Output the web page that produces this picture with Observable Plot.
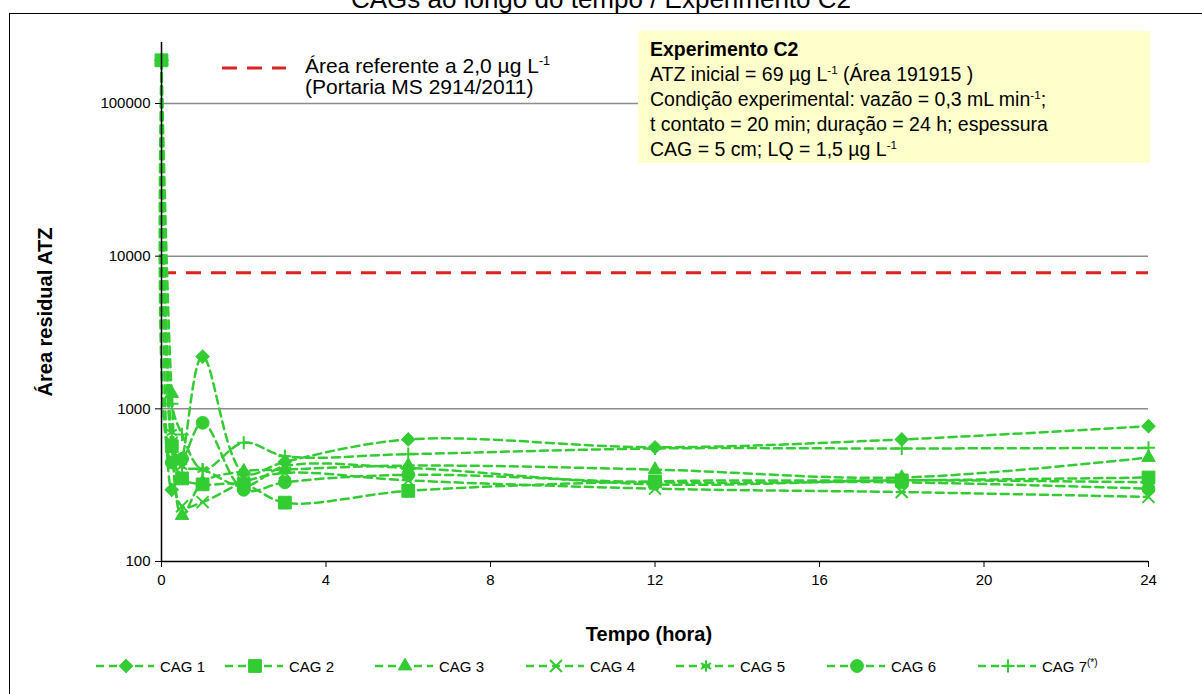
<!DOCTYPE html>
<html><head><meta charset="utf-8">
<script src="https://cdn.jsdelivr.net/npm/d3@7"></script>
<script src="https://cdn.jsdelivr.net/npm/@observablehq/plot@0.6"></script>
<style>
body{margin:0;background:#fff;font-family:"Liberation Sans",Arial,sans-serif;color:#000;}
#wrap{position:relative;width:1202px;height:694px;overflow:hidden;background:#fff;}
#frame{position:absolute;left:9px;top:13px;width:1200px;height:700px;border:1.5px solid #000;box-sizing:border-box;}
#title{position:absolute;left:0;width:1202px;text-align:center;top:-14px;font-size:26px;line-height:26px;white-space:nowrap;}
#chart{position:absolute;left:0;top:0;}
#overlay{position:absolute;left:0;top:0;pointer-events:none;}
.txt{position:absolute;white-space:nowrap;font-size:21px;line-height:21px;}
sup{font-size:0.6em;vertical-align:0.6em;line-height:0;}
#box{position:absolute;left:638px;top:31px;width:512px;height:132px;background:#FFFFCC;box-sizing:border-box;padding:6px 0 0 12px;font-size:19.5px;line-height:25px;white-space:nowrap;}
#ylab{position:absolute;left:45px;top:312px;transform:translate(-50%,-50%) rotate(-90deg);font-weight:bold;font-size:20px;white-space:nowrap;}
#xlab{position:absolute;left:649px;top:634px;transform:translate(-50%,-50%);font-weight:bold;font-size:20px;white-space:nowrap;}
</style></head>
<body>
<div id="wrap">
  <div id="title">CAGs ao longo do tempo / Experimento C2</div>
  <div id="frame"></div>
  <div id="chart"></div>
  <svg id="overlay" width="1202" height="694"></svg>
  <div class="txt" style="left:305px;top:55px;">Área referente a 2,0 µg L<sup>-1</sup></div>
  <div class="txt" style="left:305px;top:76px;">(Portaria MS 2914/2011)</div>
  <div id="box"><div><b>Experimento C2</b></div><div>ATZ inicial = 69 µg L<sup>-1</sup> (Área 191915 )</div><div>Condição experimental: vazão = 0,3 mL min<sup>-1</sup>;</div><div>t contato = 20 min; duração = 24 h; espessura</div><div>CAG = 5 cm; LQ = 1,5 µg L<sup>-1</sup></div></div>
  <div id="ylab">Área residual ATZ</div>
  <div id="xlab">Tempo (hora)</div>
</div>
<script>
// ---- data ----
const times = [0, 0.25, 0.5, 1, 2, 3, 6, 12, 18, 24];
const cag1 = [191915, 295, 470, 2200, 380, 450, 630, 560, 630, 770];
const cag2 = [191915, 570, 350, 320, 320, 243, 290, 335, 340, 355];
const cag3 = [191915, 1260, 200, 330, 390, 400, 425, 400, 355, 480];
const cag4 = [191915, 600, 230, 245, 330, 380, 340, 300, 285, 265];
const cag5 = [191915, 700, 420, 400, 310, 420, 410, 320, 340, 330];
const cag6 = [191915, 445, 470, 810, 295, 330, 370, 330, 330, 300];
const cag7 = [191915, 1080, 680, 400, 600, 490, 505, 550, 550, 555];
const seriesNames = ["CAG 1", "CAG 2", "CAG 3", "CAG 4", "CAG 5", "CAG 6", "CAG 7"];
const seriesValues = [cag1, cag2, cag3, cag4, cag5, cag6, cag7];
const limitArea = [7800];
const gridLevels = [1000, 10000, 100000];
const yTicks = [100, 1000, 10000, 100000];
const xTicks = [0, 4, 8, 12, 16, 20, 24];

// marker styles (Excel-like: all fit the same box)
const markerStyle = [
  {symbol: "square", rotate: 45, r: 5.3, sw: 1},   // diamond
  {symbol: "square", rotate: 0, r: 7.2, sw: 1},
  {symbol: "triangle", rotate: 0, r: 5.0, sw: 1},
  {symbol: "times", rotate: 0, r: 5.5, sw: 2},
  {symbol: "asterisk", rotate: 0, r: 5.5, sw: 2},
  {symbol: "circle", rotate: 0, r: 6.4, sw: 1},
  {symbol: "plus", rotate: 0, r: 4.3, sw: 2}
];

const green = "#33CC33";
const red = "#DD2222";
const data = [];
seriesNames.forEach((s, i) => times.forEach((t, j) => data.push({s, t, v: seriesValues[i][j]})));

const dotMarks = seriesNames.map((s, i) => Plot.dot(data.filter(d => d.s === s), {
  x: "t", y: "v", symbol: markerStyle[i].symbol, rotate: markerStyle[i].rotate, r: markerStyle[i].r,
  fill: green, stroke: green, strokeWidth: markerStyle[i].sw
}));

const chart = Plot.plot({
  width: 1202, height: 610,
  marginLeft: 161, marginRight: 54, marginTop: 42, marginBottom: 49,
  style: {fontFamily: "Liberation Sans, Arial, sans-serif", fontSize: "15px", color: "#000", background: "transparent", overflow: "visible"},
  x: {domain: [0, 24]},
  y: {type: "log", domain: [100, 251000]},
  marks: [
    Plot.ruleY(gridLevels, {x1: 0, x2: 24, stroke: "#8c8c8c", strokeWidth: 1.5}),
    Plot.ruleY(limitArea, {x1: 0, x2: 24, stroke: red, strokeWidth: 3, strokeDasharray: "15,10"}),
    Plot.line(data, {x: "t", y: "v", z: "s", stroke: green, strokeWidth: 2.5, strokeDasharray: "8,5", curve: "catmull-rom"}),
    ...dotMarks,
    Plot.ruleX([0], {stroke: "#000", strokeWidth: 1.5}),
    Plot.ruleY([100], {x1: 0, x2: 24, stroke: "#000", strokeWidth: 1.5}),
    Plot.axisX({ticks: xTicks, tickSize: 6, tickPadding: 7, label: null, fontSize: 15, tickFormat: d => String(d)}),
    Plot.axisY({ticks: yTicks, tickSize: 6, tickPadding: 5, label: null, fontSize: 15, tickFormat: d => String(d)})
  ]
});
document.getElementById("chart").appendChild(chart);

// ---- overlay: threshold legend sample and series legend ----
const ov = d3.select("#overlay");
ov.append("line").attr("x1", 222).attr("x2", 286).attr("y1", 68).attr("y2", 68)
  .attr("stroke", red).attr("stroke-width", 3).attr("stroke-dasharray", "15,10");

const symMap = {square: d3.symbolSquare, triangle: d3.symbolTriangle,
  times: d3.symbolTimes, asterisk: d3.symbolAsterisk, circle: d3.symbolCircle, plus: d3.symbolPlus};
const legendX = [126, 255, 405, 556, 706, 857, 1008];
const ly = 666;
seriesNames.forEach((s, i) => {
  const x = legendX[i], m = markerStyle[i];
  ov.append("line").attr("x1", x - 30).attr("x2", x + 28).attr("y1", ly).attr("y2", ly)
    .attr("stroke", green).attr("stroke-width", 2.5).attr("stroke-dasharray", "8,5");
  ov.append("path").attr("transform", `translate(${x},${ly}) rotate(${m.rotate})`)
    .attr("d", d3.symbol(symMap[m.symbol], Math.PI * m.r * m.r)())
    .attr("fill", green).attr("stroke", green).attr("stroke-width", m.sw);
  const t = ov.append("text").attr("x", x + 34).attr("y", ly + 5.5)
    .attr("font-family", "Liberation Sans, Arial, sans-serif").attr("font-size", 15).text(s);
  if (i === 6) t.append("tspan").attr("font-size", 10).attr("dy", -6).text("(*)");
});
</script>
</body></html>
